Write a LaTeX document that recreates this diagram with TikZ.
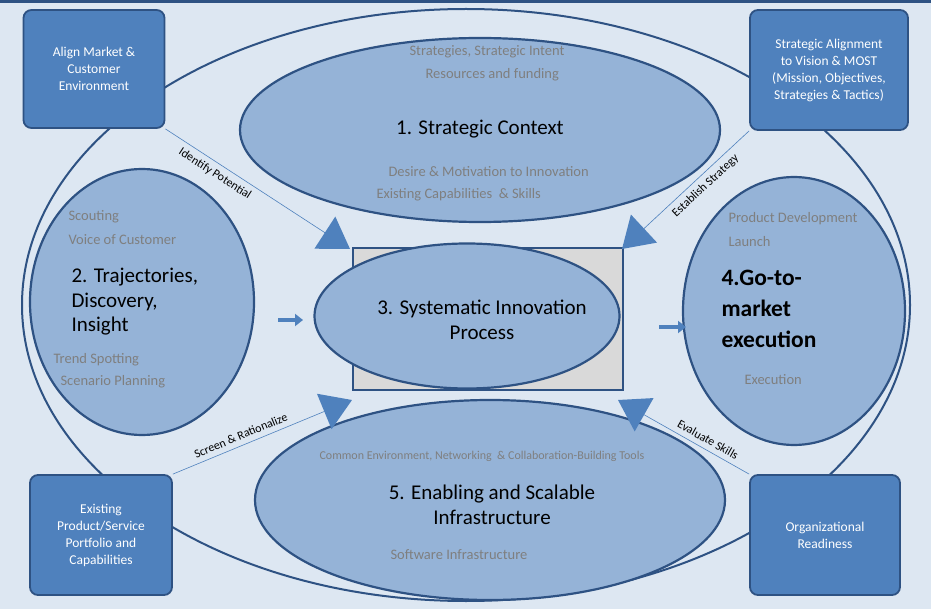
\documentclass[tikz,border=0pt]{standalone}
\usepackage{fontspec}
\setmainfont{Carlito}
\usetikzlibrary{arrows.meta,shapes.geometric}
\definecolor{bg}{HTML}{DDE7F2}
\definecolor{ef}{HTML}{95B3D7}
\definecolor{ed}{HTML}{2E5283}
\definecolor{bx}{HTML}{4F81BD}
\definecolor{gt}{HTML}{7F7F7F}
\begin{document}
\begin{tikzpicture}[x=1pt,y=-1pt,
 ell/.style={draw=ed,line width=2.2pt,fill=ef},
 box/.style={draw=ed,line width=1.8pt,fill=bx,rounded corners=8pt,text=white,font=\fontsize{13.5}{17}\selectfont,align=center},
 gray/.style={text=gt,font=\fontsize{14.5}{17}\selectfont,anchor=west},
 big/.style={font=\fontsize{21}{24.5}\selectfont,align=left},
 conn/.style={draw=bx,line width=0.6pt,-{Triangle[length=30pt,width=38pt,fill=bx,line width=1.5pt]}},
 lab/.style={font=\fontsize{12}{14}\selectfont,sloped},
 sarr/.style={draw=bx,line width=4pt,-{Triangle[length=8pt,width=12pt]}}]
\useasboundingbox (0,0) rectangle (931,609);
\fill[bg] (0,0) rectangle (931,609);
\fill[ed] (0,0) rectangle (931,3);
\draw[ed,line width=2pt] (466,305) ellipse [x radius=444,y radius=296];
\node[ell,ellipse,minimum width=480,minimum height=184] (e1) at (480,130) {};
\node[ell,ellipse,minimum width=224,minimum height=266] (e2) at (142,302) {};
\node[ell,ellipse,minimum width=222,minimum height=268] (e4) at (794,311) {};
\node[ell,ellipse,minimum width=470,minimum height=200] (e5) at (490,500) {};
\node[draw=ed,line width=1.8pt,fill=gray!30,minimum width=270,minimum height=142] (r) at (488,319) {};
\node[ell,ellipse,minimum width=305,minimum height=145] (e3) at (467,316) {};
\node[box,minimum width=141,minimum height=118] (b1) at (94,69) {Align Market \&\\Customer\\Environment};
\node[box,minimum width=158,minimum height=120] (b2) at (829,70) {Strategic Alignment\\to Vision \& MOST\\(Mission, Objectives,\\Strategies \& Tactics)};
\node[box,minimum width=142,minimum height=120] (b3) at (101,535) {Existing\\Product/Service\\Portfolio and\\Capabilities};
\node[box,minimum width=150,minimum height=120] (b4) at (825,535) {Organizational\\Readiness};
\coordinate (t1) at (350,249);
\coordinate (t2) at (622,249);
\coordinate (t3) at (352,400);
\coordinate (t4) at (618,400);
\path[conn] (b1.south east) -- node[lab,pos=0.3,below=2pt]{Identify Potential} (t1);
\path[conn] (b2.south west) -- node[lab,pos=0.4,below=2pt]{Establish Strategy} (t2);
\path[conn] (b3.north east) -- node[lab,pos=0.4,above=2pt]{Screen \& Rationalize} (t3);
\path[conn] (b4.north west) -- node[lab,pos=0.35,above=2pt]{Evaluate Skills} (t4);
\node[gray] (s1) at (406,52) {Strategies, Strategic Intent};
\node[gray] (s2) at (422,75) {Resources and funding};
\node[font=\fontsize{21}{24}\selectfont] (n1) at (480,129) {1. Strategic Context};
\node[gray] (s3) at (385,172) {Desire \& Motivation to Innovation};
\node[gray] (s4) at (373,195) {Existing Capabilities \ \& Skills};
\node[gray] (s5) at (65,217) {Scouting};
\node[gray] (s6) at (65,240) {Voice of Customer};
\node[big,anchor=west] (n2) at (68,302) {2. Trajectories,\\Discovery,\\Insight};
\node[gray] (s7) at (50,360) {Trend Spotting};
\node[gray] (s8) at (57,382) {Scenario Planning};
\node[font=\fontsize{21}{25}\selectfont,align=center] (n3) at (482,320) {3. Systematic Innovation\\Process};
\node[gray] (s9) at (725,219) {Product Development};
\node[gray] (s10) at (725,242) {Launch};
\node[font=\fontsize{23.5}{31}\selectfont\bfseries,align=left,anchor=west] (n4) at (718,309) {4.Go-to-\\market\\execution};
\node[gray] (s11) at (741,380) {Execution};
\node[gray,font=\fontsize{12}{14}\selectfont] (s12) at (316,456) {Common Environment,\ Networking \ \& Collaboration-Building Tools};
\node[font=\fontsize{21}{25}\selectfont,align=center] (n5) at (492,505) {5. Enabling and Scalable\\Infrastructure};
\node[gray] (s13) at (387,555) {Software Infrastructure};
\coordinate (a1) at (278,320); \coordinate (a2) at (303,320);
\coordinate (a3) at (659,327); \coordinate (a4) at (686,327);
\draw[sarr] (a1) -- (a2);
\draw[sarr] (a3) -- (a4);
\end{tikzpicture}
\end{document}
